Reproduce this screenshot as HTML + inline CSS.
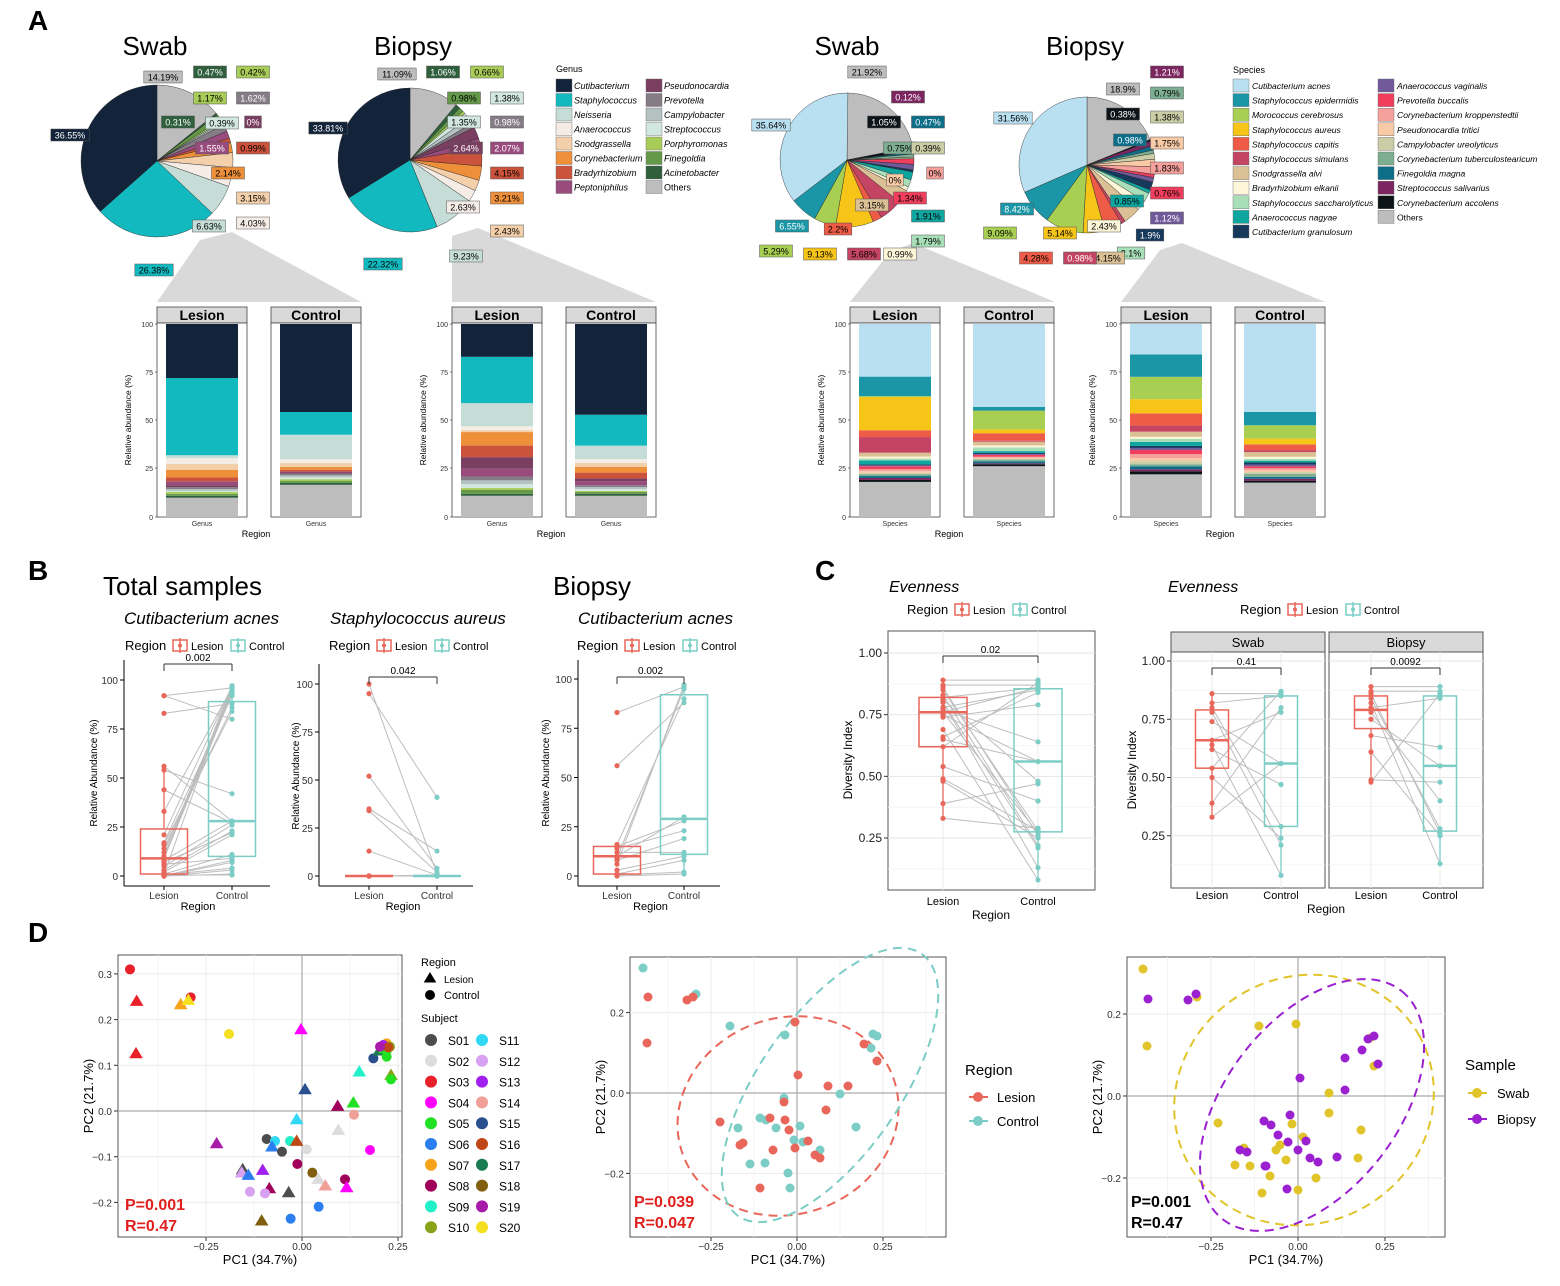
<!DOCTYPE html>
<html><head><meta charset="utf-8">
<style>
html,body{margin:0;padding:0;background:#fff}
svg{display:block;font-family:"Liberation Sans",Arial,sans-serif}
</style></head>
<body>
<svg id="s" xmlns="http://www.w3.org/2000/svg" width="1560" height="1286" viewBox="0 0 1560 1286"></svg>
<script>
let o='';
function T(x,y,t,sz,opt){opt=opt||{};o+=`<text x="${x}" y="${y}" font-size="${sz}" fill="${opt.f||'#000'}" text-anchor="${opt.a||'start'}" ${opt.i?'font-style="italic"':''} ${opt.b?'font-weight="bold"':''} ${opt.r?`transform="rotate(-90 ${x} ${y})"`:''}>${t}</text>`;}
function R(x,y,w,h,f,s,sw){o+=`<rect x="${x}" y="${y}" width="${w}" height="${h}" fill="${f}" ${s?`stroke="${s}" stroke-width="${sw||1}"`:''}/>`;}
function L(x1,y1,x2,y2,s,w,extra){o+=`<line x1="${x1}" y1="${y1}" x2="${x2}" y2="${y2}" stroke="${s}" stroke-width="${w||1}" ${extra||''}/>`;}
function C(x,y,r,f,s){o+=`<circle cx="${x}" cy="${y}" r="${r}" fill="${f}" ${s?`stroke="${s}"`:''}/>`;}
function TR(x,y,r,f){o+=`<polygon points="${x},${y-r} ${x-r*1.05},${y+r*0.75} ${x+r*1.05},${y+r*0.75}" fill="${f}"/>`;}

const G=['#13233a','#12b9bf','#c5ddd6','#f5ece6','#f3cfaa','#ee8f3a','#cc533b','#9a4b7e','#7a3e60','#857c86','#b4c2c1','#d2e7e0','#a8cc58','#65994a','#2f5f3c','#bdbdbd'];
const GN=['Cutibacterium','Staphylococcus','Neisseria','Anaerococcus','Snodgrassella','Corynebacterium','Bradyrhizobium','Peptoniphilus','Pseudonocardia','Prevotella','Campylobacter','Streptococcus','Porphyromonas','Finegoldia','Acinetobacter','Others'];
const SP=['#b9e0f0','#1a96a6','#a8cf52','#f6c518','#ee5b46','#c44463','#dcc095','#fdf6d8','#a9dfb8','#10a6a0','#173a5c','#705a9a','#f03e5c','#f5a09a','#f8cba6','#cbcda6','#7dae92','#0d6e8a','#7d2560','#0c1418','#bdbdbd'];
const SN=['Cutibacterium acnes','Staphylococcus epidermidis','Morococcus cerebrosus','Staphylococcus aureus','Staphylococcus capitis','Staphylococcus simulans','Snodgrassella alvi','Bradyrhizobium elkanii','Staphylococcus saccharolyticus','Anaerococcus nagyae','Cutibacterium granulosum','Anaerococcus vaginalis','Prevotella buccalis','Corynebacterium kroppenstedtii','Pseudonocardia tritici','Campylobacter ureolyticus','Corynebacterium tuberculostearicum','Finegoldia magna','Streptococcus salivarius','Corynebacterium accolens','Others'];

T(28,30,'A',28,{b:1});T(28,580,'B',28,{b:1});T(815,580,'C',28,{b:1});T(28,942,'D',28,{b:1});

function poly(p,f){o+=`<polygon points="${p}" fill="${f}"/>`;}
poly('200,240 232,232 361,302 157,302','#d9d9d9');
poly('452,236 478,228 656,302 452,302','#d9d9d9');
poly('890,252 913,243 1055,302 850,302','#d9d9d9');
poly('1160,250 1182,243 1325,302 1121,302','#d9d9d9');

function pie(cx,cy,r,vals,cols){let a=-Math.PI/2;vals.forEach((v,i)=>{if(v<=0)return;const b=a+v/100*2*Math.PI;const x1=cx+r*Math.cos(a),y1=cy+r*Math.sin(a),x2=cx+r*Math.cos(b),y2=cy+r*Math.sin(b);o+=`<path d="M${cx},${cy}L${x1},${y1}A${r},${r} 0 ${b-a>Math.PI?1:0} 1 ${x2},${y2}Z" fill="${cols[i]}" stroke="#222" stroke-width="0.4"/>`;a=b;});}
function gorder(v){const vals=[v[15]];const cols=[G[15]];for(let i=14;i>=0;i--){vals.push(v[i]);cols.push(G[i]);}return [vals,cols];}
let gs=[36.55,26.38,6.63,4.03,3.15,2.14,0.99,1.55,0,1.62,0.39,0.31,0.42,1.17,0.47,14.19];
let gb=[33.81,22.32,9.23,2.63,2.43,3.21,4.15,2.07,2.64,0.98,1.38,1.35,0.66,0.98,1.06,11.09];
let p=gorder(gs);pie(157,161,76,p[0],p[1]);
p=gorder(gb);pie(410,160,72,p[0],p[1]);
function sorder(v){const vals=[v[20]];const cols=[SP[20]];for(let i=19;i>=0;i--){vals.push(v[i]);cols.push(SP[i]);}return [vals,cols];}
let ss=[35.64,6.55,5.29,9.13,2.2,5.68,3.15,0.99,1.79,1.91,0.5,1.34,1.34,0,0,0.39,0.75,0.47,0.12,1.05,21.92];
let sb=[31.56,8.42,9.09,5.14,4.28,0.98,4.15,2.43,2.1,0.85,1.9,1.12,0.76,1.83,1.75,1.38,0.79,0.98,1.21,0.38,18.9];
p=sorder(ss);pie(847,160,67,p[0],p[1]);
p=sorder(sb);pie(1087,165,68,p[0],p[1]);

function lab(x,y,t,c,dark){const w=t.length*5.4+6;R(x-w/2,y-6,w,12,c,'#555',0.5);T(x,y+3.5,t,9,{a:'middle',f:dark?'#fff':'#000'});}
const gl=[['14.19%',163,77,15],['0.47%',210,72,14,1],['0.42%',253,72,12],['1.17%',210,98,12],['1.62%',253,98,9,1],['0.31%',178,122,14,1],['0.39%',222,123,11],['0%',253,122,8,1],['1.55%',212,148,7,1],['0.99%',253,148,6],['2.14%',228,173,5],['3.15%',253,198,4],['4.03%',253,223,3],['6.63%',209,226,2],['26.38%',154,270,1],['36.55%',70,135,0,1]];
gl.forEach(l=>lab(l[1],l[2],l[0],G[l[3]],l[4]));
const bl=[['11.09%',397,74,15],['1.06%',443,72,14,1],['0.66%',487,72,12],['0.98%',464,98,13],['1.38%',507,98,11],['1.35%',464,122,11],['0.98%',507,122,9,1],['2.64%',466,148,8,1],['2.07%',507,148,7,1],['4.15%',507,173,6],['3.21%',507,198,5],['2.43%',507,231,4],['2.63%',463,207,3],['9.23%',466,256,2],['22.32%',383,264,1],['33.81%',328,128,0,1]];
bl.forEach(l=>lab(l[1],l[2],l[0],G[l[3]],l[4]));
const sl=[['21.92%',867,72,20],['0.12%',908,97,18,1],['1.05%',884,122,19,1],['0.47%',928,122,17,1],['0.75%',900,148,16],['0.39%',928,148,15],['0%',895,180,14],['0%',935,173,13],['1.34%',910,198,12],['1.91%',928,216,9],['1.79%',928,241,8],['0.99%',900,254,7],['5.68%',864,254,5],['9.13%',820,254,3],['5.29%',776,251,2],['6.55%',792,226,1,1],['2.2%',838,229,4],['3.15%',872,205,6],['35.64%',771,125,0]];
sl.forEach(l=>lab(l[1],l[2],l[0],SP[l[3]],l[4]));
const bl2=[['1.21%',1167,72,18,1],['18.9%',1123,89,20],['0.79%',1167,93,16],['0.38%',1123,114,19,1],['1.38%',1167,117,15],['0.98%',1130,140,17,1],['1.75%',1167,143,14],['1.83%',1167,168,13],['0.76%',1167,193,12],['0.85%',1127,201,9],['1.12%',1167,218,11,1],['1.9%',1150,235,10,1],['2.43%',1104,226,7],['2.1%',1131,253,8],['4.15%',1108,258,6],['0.98%',1080,258,5,1],['4.28%',1036,258,4],['5.14%',1060,233,3],['9.09%',1000,233,2],['8.42%',1017,209,1,1],['31.56%',1013,118,0]];
bl2.forEach(l=>lab(l[1],l[2],l[0],SP[l[3]],l[4]));

T(155,55,'Swab',26,{a:'middle'});T(413,55,'Biopsy',26,{a:'middle'});T(847,55,'Swab',26,{a:'middle'});T(1085,55,'Biopsy',26,{a:'middle'});

T(556,72,'Genus',9);
for(let i=0;i<16;i++){const col=i<8?0:1,row=i%8;const x=col?646:556,y=79+row*14.5;R(x,y,16,13,G[i],'#666',0.4);T(x+18,y+10,GN[i],9,{i:GN[i]!='Others'});}
T(1233,73,'Species',9);
for(let i=0;i<21;i++){const col=i<11?0:1,row=col?i-11:i;const x=col?1378:1233,y=79+row*14.6;R(x,y,16,13,SP[i],'#666',0.4);T(x+19,y+10,SN[i],8.6,{i:SN[i]!='Others'});}

function facet(x,lbl){R(x,307,90,16,'#d9d9d9','#444',0.8);T(x+45,320,lbl,14,{a:'middle',b:1});R(x,323,90,194,'#fff','#444',0.8);}
function stack(x,comp,cols){const tot=comp.reduce((s,c)=>s+c[1],0);let y=517;const h=193;comp.forEach(c=>{const hh=c[1]/tot*h;R(x,y-hh,72,hh,cols[c[0]]);y-=hh;});}
function grp(x1,x2,xl,lab2,c1,c2,cols){facet(x1,'Lesion');facet(x2,'Control');stack(x1+9,c1,cols);stack(x2+9,c2,cols);
 [[0,517],[25,468],[50,420],[75,372],[100,324]].forEach(t=>{T(x1-4,t[1]+3,t[0],7,{a:'end',f:'#333'});L(x1-2,t[1],x1,t[1],'#333',0.6);});
 T(x1-26,420,'Relative abundance (%)',8.5,{a:'middle',r:1});T(x1+45,526,lab2,7,{a:'middle',f:'#333'});T(x2+45,526,lab2,7,{a:'middle',f:'#333'});T((x1+x2+90)/2-3,537,'Region',9,{a:'middle'});}
const g1L=[[15,10],[14,1],[13,1],[12,1],[11,.5],[10,1],[9,1],[8,1],[7,2],[6,2],[5,4],[4,3],[3,3],[2,1.5],[1,40],[0,28]];
const g1C=[[15,17],[14,1],[13,1],[12,1],[11,1],[10,1],[9,1],[8,.5],[7,.5],[6,1],[5,1.5],[4,2],[3,2],[2,13],[1,12],[0,46.5]];
const g2L=[[15,11],[14,1],[13,2],[12,1],[11,2],[10,2],[9,2],[7,4],[8,6],[6,6],[5,7],[4,1],[3,2],[2,12],[1,24],[0,17]];
const g2C=[[15,11],[14,1],[13,1],[12,.5],[11,1],[10,1],[9,1],[7,2],[8,1.5],[6,3],[5,3],[4,2],[3,2],[2,7],[1,16],[0,47]];
grp(157,271,259,'Genus',g1L,g1C,G);grp(452,566,555,'Genus',g2L,g2C,G);
const s1L=[[20,18],[19,1],[18,1],[17,1],[16,1],[15,.5],[14,1],[13,1],[12,1.5],[11,.5],[10,.5],[9,2],[8,1],[7,1],[6,2],[5,8],[4,3.5],[3,17],[2,0.5],[1,10],[0,27]];
const s1C=[[20,27],[19,1],[18,.5],[17,1],[16,1],[15,.5],[14,.5],[13,.5],[12,1],[11,.5],[10,.5],[9,1],[8,2],[7,1],[6,2],[5,.5],[4,4],[3,2],[2,10],[1,2],[0,44]];
const s2L=[[20,21],[19,1.5],[18,1],[17,1.5],[16,1],[15,1.5],[14,1.5],[13,2],[12,2],[11,1],[10,1],[9,2],[8,1.5],[7,1],[6,2.5],[5,3],[4,6],[3,7],[2,11],[1,11],[0,15]];
const s2C=[[20,18],[19,1],[18,1],[17,1],[16,1.5],[15,1],[14,1],[13,1],[12,1],[11,1],[10,1],[9,1],[8,1],[7,1],[6,2.5],[5,1],[4,3],[3,3],[2,7],[1,7],[0,46]];
grp(850,964,952,'Species',s1L,s1C,SP);grp(1121,1235,1223,'Species',s2L,s2C,SP);

const RED='#e8675a',TEAL='#7ccdc6';
function legendReg(x,y){T(x,y,'Region',13);let xx=x+48;[[RED,'Lesion'],[TEAL,'Control']].forEach(c=>{R(xx,y-10,14,11,'none',c[0],1.5);L(xx+7,y-12,xx+7,y+3,c[0],1.5);C(xx+7,y-4.5,2,c[0]);T(xx+18,y,c[1],11);xx+=58;});}
function box(cx,w,q1,med,q3,lo,hi,col,sy){const y=v=>sy(v);L(cx,y(lo),cx,y(q1),col,1.3);L(cx,y(q3),cx,y(hi),col,1.3);R(cx-w/2,y(q3),w,y(q1)-y(q3),'none',col,1.5);L(cx-w/2,y(med),cx+w/2,y(med),col,2.5);}
function paired(xl,xc,lv,cv,sy){lv.forEach((v,i)=>{L(xl,sy(v),xc,sy(cv[i]),'#bdbdbd',1);});}
function pts(x,vals,col,sy){vals.forEach(v=>C(x,sy(v),2.6,col));}
function classicAxes(x0,x1,ybot,ytop,sy,ticks,xl,xc){L(x0,ytop,x0,ybot,'#000',1);L(x0,ybot,x1,ybot,'#000',1);ticks.forEach(t=>{L(x0-4,sy(t),x0,sy(t),'#000',1);T(x0-6,sy(t)+4,t,10,{a:'end',f:'#333'});});[[xl,'Lesion'],[xc,'Control']].forEach(q=>{L(q[0],ybot,q[0],ybot+4,'#000',1);T(q[0],ybot+13,q[1],10,{a:'middle',f:'#333'});});T((xl+xc)/2,ybot+24,'Region',11,{a:'middle'});}
function sig(xl,xc,y,t){L(xl,y+7,xl,y,'#333',1);L(xl,y,xc,y,'#333',1);L(xc,y,xc,y+7,'#333',1);T((xl+xc)/2,y-3,t,10,{a:'middle'});}
T(103,595,'Total samples',26);T(553,595,'Biopsy',26);
T(124,624,'Cutibacterium acnes',17,{i:1});T(330,624,'Staphylococcus aureus',17,{i:1});T(578,624,'Cutibacterium acnes',17,{i:1});
legendReg(125,650);legendReg(329,650);legendReg(577,650);
let sy=v=>876-v*1.96;
let l1=[92,92,83,56,54,44,33,21,17,16,14,12,10,9,9,8,6,5,3,2,1,1,0.5,0,0,0,9,7,0.5,0.2];
let c1=[96,80,88,28,42,27,96,97,92,84,86,95,97,93,94,28,9,26,23,21,97,11,4,3,1,7,96,22,0.5,8];
paired(164,232,l1,c1,sy);box(164,47,1,9,24,0,55,RED,sy);box(232,47,10,28,89,0,98,TEAL,sy);pts(164,l1,RED,sy);pts(232,c1,TEAL,sy);
classicAxes(124,270,886,660,sy,[0,25,50,75,100],164,232);T(97,773,'Relative Abundance (%)',10,{a:'middle',r:1});sig(164,232,664,'0.002');
sy=v=>876-v*1.92;
let l2=[100,95,52,35,34,13,0,0,0,0,0,0,0,0];let c2=[1,41,4,13,2,0.5,0,0,0,0,0.5,0,0,0];
paired(369,437,l2,c2,sy);L(345,876,393,876,RED,2.5);L(413,876,461,876,TEAL,2.5);pts(369,l2,RED,sy);pts(437,c2,TEAL,sy);
classicAxes(319,473,886,664,sy,[0,25,50,75,100],369,437);T(299,776,'Relative Abundance (%)',10,{a:'middle',r:1});sig(369,437,677,'0.042');
sy=v=>876-v*1.97;
let l3=[83,56,16,15,14,12,10,9,6,3,1,0.5,0,8];let c3=[96,88,90,28,23,12,30,95,97,10,8,2,1,19];
paired(617,684,l3,c3,sy);box(617,47,1,10,15,0,17,RED,sy);box(684,47,11,29,92,0,98,TEAL,sy);pts(617,l3,RED,sy);pts(684,c3,TEAL,sy);
classicAxes(578,720,886,660,sy,[0,25,50,75,100],617,684);T(549,773,'Relative Abundance (%)',10,{a:'middle',r:1});sig(617,684,677,'0.002');

T(889,592,'Evenness',16,{i:1});legendReg(907,614);
sy=v=>653+(1-v)*246.7;
R(888,631,207,259,'#fff','#555',1);
[0.125,0.375,0.625,0.875].forEach(v=>L(888,sy(v),1095,sy(v),'#f2f2f2',0.8));
[0.25,0.5,0.75,1].forEach(v=>L(888,sy(v),1095,sy(v),'#e6e6e6',1));L(943,631,943,890,'#ebebeb',1);L(1038,631,1038,890,'#ebebeb',1);
let cl=[0.89,0.87,0.86,0.85,0.83,0.82,0.81,0.8,0.78,0.77,0.76,0.75,0.74,0.69,0.66,0.65,0.62,0.54,0.49,0.48,0.39,0.33,0.8,0.76];
let cc=[0.89,0.87,0.26,0.28,0.22,0.86,0.48,0.13,0.85,0.64,0.27,0.56,0.79,0.08,0.84,0.56,0.88,0.4,0.28,0.25,0.47,0.29,0.21,0.86];
paired(943,1038,cl,cc,sy);box(943,48,0.62,0.76,0.82,0.33,0.89,RED,sy);box(1038,48,0.275,0.56,0.855,0.08,0.9,TEAL,sy);pts(943,cl,RED,sy);pts(1038,cc,TEAL,sy);
[0.25,0.5,0.75,1].forEach(v=>{L(884,sy(v),888,sy(v),'#333',1);T(882,sy(v)+4,v.toFixed(2),12,{a:'end',f:'#222'});});
T(943,905,'Lesion',11,{a:'middle'});T(1038,905,'Control',11,{a:'middle'});T(991,919,'Region',12,{a:'middle'});T(852,760,'Diversity Index',12,{a:'middle',r:1});
sig(943,1038,656,'0.02');
T(1168,592,'Evenness',16,{i:1});legendReg(1240,614);
sy=v=>661+(1-v)*233;
function fac2(x,name,xl,xc,lv,cv,b,p){R(x,632,154,20,'#d9d9d9','#555',1);T(x+77,647,name,13,{a:'middle'});R(x,652,154,236,'#fff','#555',1);
 [0.125,0.375,0.625,0.875].forEach(v=>L(x,sy(v),x+154,sy(v),'#f2f2f2',0.8));[0.25,0.5,0.75,1].forEach(v=>L(x,sy(v),x+154,sy(v),'#e6e6e6',1));L(xl,652,xl,888,'#ebebeb',1);L(xc,652,xc,888,'#ebebeb',1);
 paired(xl,xc,lv,cv,sy);box(xl,33,b[0],b[1],b[2],b[3],b[4],RED,sy);box(xc,33,b[5],b[6],b[7],b[8],b[9],TEAL,sy);pts(xl,lv,RED,sy);pts(xc,cv,TEAL,sy);
 T(xl,899,'Lesion',11,{a:'middle'});T(xc,899,'Control',11,{a:'middle'});sig(xl,xc,668,p);}
fac2(1171,'Swab',1212,1281,[0.86,0.82,0.8,0.78,0.74,0.66,0.64,0.62,0.54,0.5,0.39,0.33],[0.86,0.85,0.29,0.21,0.56,0.78,0.08,0.47,0.87,0.24,0.8,0.56],[0.54,0.66,0.79,0.33,0.86,0.29,0.56,0.85,0.08,0.87],'0.41');
fac2(1329,'Biopsy',1371,1440,[0.89,0.87,0.86,0.84,0.82,0.8,0.78,0.75,0.68,0.61,0.49,0.48],[0.89,0.87,0.26,0.28,0.13,0.84,0.4,0.55,0.63,0.25,0.48,0.86],[0.71,0.79,0.85,0.48,0.89,0.27,0.55,0.85,0.13,0.89],'0.0092');
[0.25,0.5,0.75,1].forEach(v=>{L(1167,sy(v),1171,sy(v),'#333',1);T(1165,sy(v)+4,v.toFixed(2),12,{a:'end',f:'#222'});});
T(1326,913,'Region',12,{a:'middle'});T(1136,770,'Diversity Index',12,{a:'middle',r:1});

function dpanel(x0,y0,x1,y1,sx,syf,xt,yt){R(x0,y0,x1-x0,y1-y0,'#fff','#555',1);
 const xv=[-0.375,-0.125,0.125,0.375];xv.forEach(v=>{const x=sx(v);if(x>x0&&x<x1)L(x,y0,x,y1,'#f2f2f2',0.8);});
 xt.forEach(v=>{const x=sx(v);L(x,y0,x,y1,'#ebebeb',1);});yt.forEach(v=>{L(x0,syf(v),x1,syf(v),'#ebebeb',1);});
 L(sx(0),y0,sx(0),y1,'#aaa',1.2);L(x0,syf(0),x1,syf(0),'#aaa',1.2);
 xt.forEach(v=>{const x=sx(v);L(x,y1,x,y1+4,'#333',1);T(x,y1+13,v==0?'0.00':v.toFixed(2).replace('-','−'),10,{a:'middle',f:'#333'});});
 yt.forEach(v=>{const y=syf(v);L(x0-4,y,x0,y,'#333',1);T(x0-6,y+4,v.toFixed(1).replace('-','−'),10,{a:'end',f:'#333'});});
 T((x0+x1)/2,y1+27,'PC1 (34.7%)',13,{a:'middle'});T(x0-25,(y0+y1)/2,'PC2 (21.7%)',13,{a:'middle',r:1});}
let sx=v=>302+v*384,sd=v=>1111-v*457;
dpanel(118,955,402,1237,sx,sd,[-0.25,0,0.25],[-0.2,-0.1,0,0.1,0.2,0.3]);
const SC={S01:'#4d4d4d',S02:'#dcdcdc',S03:'#e8202a',S04:'#ff00ff',S05:'#22e022',S06:'#2a7ef0',S07:'#f7a21b',S08:'#a0005a',S09:'#22f0c8',S10:'#8aa21a',S11:'#30d8f5',S12:'#d8a0f0',S13:'#a020f0',S14:'#f0a098',S15:'#2a4f8f',S16:'#c04818',S17:'#1a7a50',S18:'#806010',S19:'#a81aa8',S20:'#f5e020'};
const D1=[[210,88,'c','S03'],[230,183,'t','S03'],[392,172,'c','S03'],[362,193,'t','S07'],[385,180,'t','S20'],[228,340,'t','S03'],[507,282,'c','S20'],[723,268,'t','S04'],[735,448,'t','S15'],[898,395,'t','S09'],[833,498,'t','S08'],[880,488,'t','S05'],[882,524,'c','S14'],[835,570,'t','S02'],[930,630,'c','S04'],[710,538,'t','S11'],[620,597,'c','S01'],[645,603,'c','S11'],[690,603,'c','S09'],[710,603,'t','S16'],[636,620,'t','S06'],[666,635,'c','S01'],[740,628,'c','S02'],[470,610,'t','S19'],[712,672,'c','S08'],[757,698,'c','S18'],[775,717,'t','S02'],[796,737,'t','S14'],[855,718,'c','S08'],[860,742,'t','S04'],[548,688,'t','S01'],[545,698,'t','S12'],[565,705,'t','S06'],[608,690,'t','S13'],[628,745,'t','S08'],[570,755,'c','S12'],[615,760,'c','S12'],[686,757,'t','S01'],[776,800,'c','S06'],[692,836,'c','S06'],[605,842,'t','S18'],[940,355,'c','S15'],[958,332,'t','S17'],[980,310,'c','S07'],[975,325,'t','S05'],[980,350,'c','S05'],[990,320,'c','S10'],[993,405,'t','S10'],[993,418,'c','S05'],[970,315,'c','S13'],[985,322,'c','S16'],[960,320,'c','S19']];
D1.forEach(d=>{const x=60+d[0]/3,y=940+d[1]/3;if(d[2]=='c')C(x,y,5,SC[d[3]]);else TR(x,y,6.5,SC[d[3]]);});
T(125,1210,'P=0.001',16,{b:1,f:'#e0201e'});T(125,1231,'R=0.47',16,{b:1,f:'#e0201e'});
T(421,966,'Region',11);TR(430,978,6,'#000');T(444,983,'Lesion',10);C(430,995,5,'#000');T(444,999,'Control',11);T(421,1022,'Subject',11);
const SK=Object.keys(SC);SK.forEach((k,i)=>{const col=i<10?0:1,row=i%10;const x=col?482:431,y=1040+row*20.8;C(x,y,6,SC[k]);T(x+17,y+5,k,12);});
sx=v=>797+v*344;sd=v=>1093-v*402;
dpanel(630,957,946,1237,sx,sd,[-0.25,0,0.25],[-0.2,0,0.2]);
o+=`<ellipse cx="788" cy="1116" rx="112" ry="98" transform="rotate(-20 788 1116)" fill="none" stroke="${RED}" stroke-width="2" stroke-dasharray="9,6"/>`;
o+=`<ellipse cx="830" cy="1085" rx="160" ry="70" transform="rotate(-55 830 1085)" fill="none" stroke="${TEAL}" stroke-width="2" stroke-dasharray="9,6"/>`;
const D2r=[[648,997],[647,1043],[687,1000],[693,997],[795,1022],[798,1075],[877,1061],[864,1044],[848,1086],[828,1086],[720,1122],[740,1145],[770,1118],[785,1120],[789,1130],[795,1148],[815,1155],[820,1158],[826,1110],[773,1150],[743,1143],[760,1188],[808,1141],[784,1102]];
const D2t=[[643,968],[696,994],[730,1026],[785,1035],[873,1034],[877,1036],[871,1048],[840,1094],[766,1120],[776,1128],[800,1126],[788,1173],[750,1164],[765,1163],[790,1188],[820,1150],[856,1127],[784,1098],[760,1118],[794,1140],[803,1142],[738,1128]];
D2t.forEach(p=>C(p[0],p[1],4.5,TEAL));D2r.forEach(p=>C(p[0],p[1],4.5,RED));
T(634,1207,'P=0.039',16,{b:1,f:'#e0201e'});T(634,1228,'R=0.047',16,{b:1,f:'#e0201e'});
T(965,1075,'Region',15);L(969,1097,988,1097,RED,2);C(978,1097,5,RED);T(997,1102,'Lesion',13);L(969,1121,988,1121,TEAL,2);C(978,1121,5,TEAL);T(997,1126,'Control',13);
const YE='#e0c42a',PU='#9a20d0';
sx=v=>1298+v*348;sd=v=>1096-v*410;
dpanel(1127,957,1445,1237,sx,sd,[-0.25,0,0.25],[-0.2,0,0.2]);
o+=`<ellipse cx="1304" cy="1100" rx="132" ry="123" transform="rotate(-30 1304 1100)" fill="none" stroke="${YE}" stroke-width="2" stroke-dasharray="9,6"/>`;
o+=`<ellipse cx="1312" cy="1105" rx="145" ry="86" transform="rotate(-52 1312 1105)" fill="none" stroke="${PU}" stroke-width="2" stroke-dasharray="9,6"/>`;
const D3y=[[1143,969],[1147,1046],[1197,997],[1259,1026],[1296,1024],[1370,1038],[1374,1066],[1329,1093],[1329,1113],[1361,1130],[1218,1123],[1244,1148],[1250,1166],[1276,1150],[1286,1160],[1270,1176],[1316,1178],[1298,1190],[1262,1193],[1280,1145],[1358,1158],[1303,1137],[1235,1165],[1292,1124]];
const D3p=[[1148,999],[1188,1000],[1196,994],[1300,1078],[1345,1058],[1362,1050],[1368,1039],[1374,1036],[1378,1064],[1345,1090],[1264,1121],[1271,1125],[1278,1135],[1288,1142],[1306,1141],[1298,1150],[1310,1158],[1318,1162],[1337,1157],[1266,1166],[1247,1152],[1240,1150],[1287,1189],[1265,1166],[1290,1115]];
D3y.forEach(p=>C(p[0],p[1],4.5,YE));D3p.forEach(p=>C(p[0],p[1],4.5,PU));
T(1131,1207,'P=0.001',16,{b:1});T(1131,1228,'R=0.47',16,{b:1});
T(1465,1070,'Sample',15);L(1468,1093,1487,1093,YE,2);C(1477,1093,5,YE);T(1497,1098,'Swab',13);L(1468,1119,1487,1119,PU,2);C(1477,1119,5,PU);T(1497,1124,'Biopsy',13);

document.getElementById('s').innerHTML=o;
</script>
</body></html>
